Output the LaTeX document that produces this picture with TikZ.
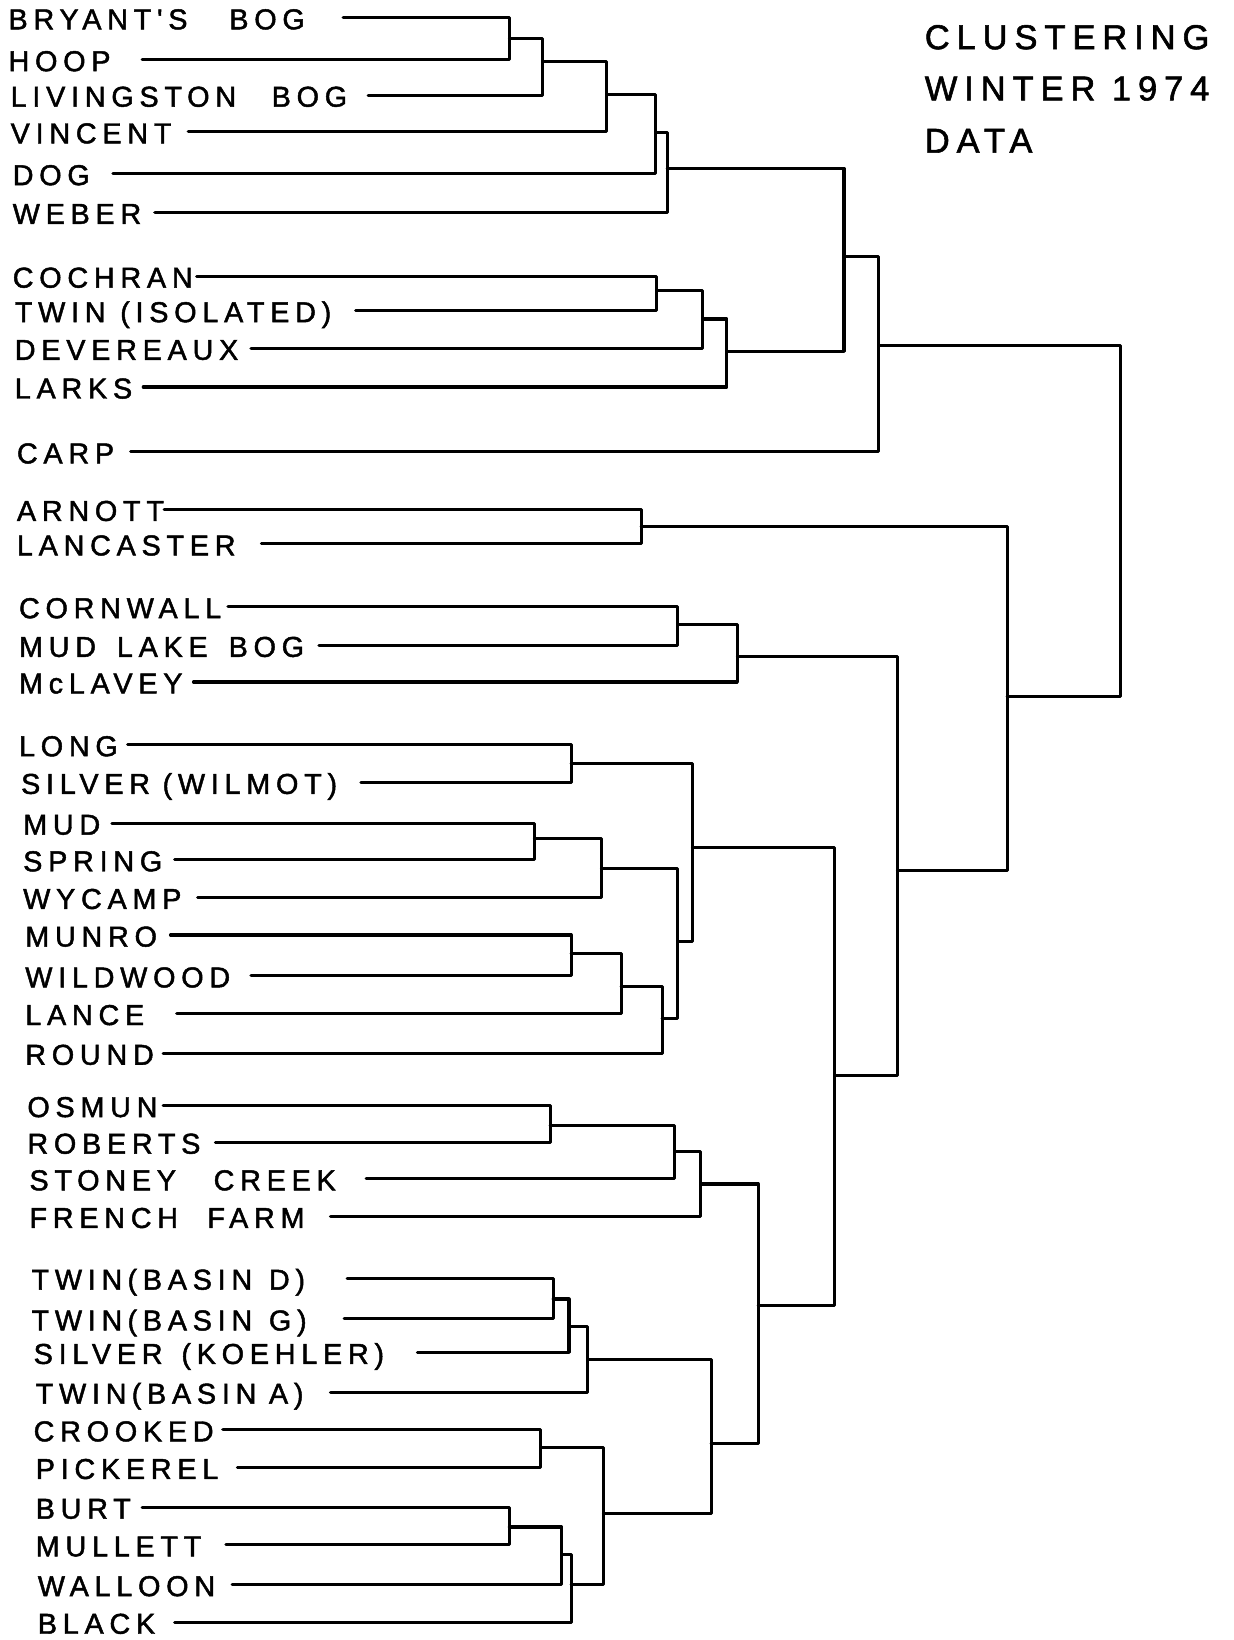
\documentclass[tikz,border=0pt]{standalone}
\usepackage{fontspec}
\newfontfamily\lblfam[LetterSpace=20,FakeBold=1.6]{Liberation Sans}
\newfontfamily\ttlfam[LetterSpace=20,FakeBold=1.6]{Liberation Sans}
\newcommand\wg[1]{\hspace*{#1pt}}
\begin{document}
\begin{tikzpicture}[x=1pt,y=-1pt,
  lbl/.style={anchor=base west, inner sep=0pt, font={\lblfam\fontsize{27.5pt}{29pt}\selectfont}},
  ttl/.style={anchor=base west, inner sep=0pt, font={\ttlfam\fontsize{33pt}{35pt}\selectfont}},
  br/.style={line width=3pt, line join=round, line cap=round}]
\useasboundingbox[fill=white] (0,0) rectangle (1179,1568);

% title
\node[ttl] (t1) at (884,47) {CLUSTERING};
\node[ttl] (t2) at (884,96) {WINTER 1974};
\node[ttl] (t3) at (884,146) {DATA};

% labels (baseline = line y + 11)
\node[lbl] (L1)  at (8,28)    {BRYANT'S\wg{40}BOG};
\node[lbl] (L2)  at (8,68)    {HOOP};
\node[lbl] (L3)  at (10,102)  {LIVINGSTON\wg{34}BOG};
\node[lbl] (L4)  at (10,137)  {VINCENT};
\node[lbl] (L5)  at (12,177)  {DOG};
\node[lbl] (L6)  at (12,214)  {WEBER};
\node[lbl] (L7)  at (12,275)  {COCHRAN};
\node[lbl] (L8)  at (14,308)  {TWIN\wg{14}(ISOLATED)};
\node[lbl] (L9)  at (14,344)  {DEVEREAUX};
\node[lbl] (L10) at (14,381)  {LARKS};
\node[lbl] (L11) at (16,443)  {CARP};
\node[lbl] (L12) at (16,498)  {ARNOTT};
\node[lbl] (L13) at (16,531)  {LANCASTER};
\node[lbl] (L14) at (18,591)  {CORNWALL};
\node[lbl] (L15) at (18,628)  {MUD\wg{20}LAKE\wg{20}BOG};
\node[lbl] (L16) at (18,663)  {McLAVEY};
\node[lbl] (L17) at (18,723)  {LONG};
\node[lbl] (L18) at (20,759)  {SILVER\wg{12}(WILMOT)};
\node[lbl] (L19) at (22,798)  {MUD};
\node[lbl] (L20) at (22,833)  {SPRING};
\node[lbl] (L21) at (22,869)  {WYCAMP};
\node[lbl] (L22) at (24,905)  {MUNRO};
\node[lbl] (L23) at (24,944)  {WILDWOOD};
\node[lbl] (L24) at (24,980)  {LANCE};
\node[lbl] (L25) at (24,1018) {ROUND};
\node[lbl] (L26) at (26,1068) {OSMUN};
\node[lbl] (L27) at (26,1103) {ROBERTS};
\node[lbl] (L28) at (28,1138) {STONEY\wg{36}CREEK};
\node[lbl] (L29) at (28,1174) {FRENCH\wg{28}FARM};
\node[lbl] (L30) at (30,1233) {TWIN\wg{5}(BASIN\wg{16}D)};
\node[lbl] (L31) at (30,1272) {TWIN\wg{5}(BASIN\wg{16}G)};
\node[lbl] (L32) at (32,1304) {SILVER\wg{18}(KOEHLER)};
\node[lbl] (L33) at (34,1342) {TWIN\wg{5}(BASIN\wg{12}A)};
\node[lbl] (L34) at (32,1378) {CROOKED};
\node[lbl] (L35) at (34,1414) {PICKEREL};
\node[lbl] (L36) at (34,1452) {BURT};
\node[lbl] (L37) at (34,1488) {MULLETT};
\node[lbl] (L38) at (36,1526) {WALLOON};
\node[lbl] (L39) at (36,1562) {BLACK};

% leaf line starts
\coordinate (s1) at (328,17);   \coordinate (s2) at (136,57);
\coordinate (s3) at (352,91);   \coordinate (s4) at (180,126);
\coordinate (s5) at (108,166);  \coordinate (s6) at (148,203);
\coordinate (s7) at (188,264);  \coordinate (s8) at (340,297);
\coordinate (s9) at (240,333);  \coordinate (s10) at (137,370);
\coordinate (s11) at (125,432); \coordinate (s12) at (157,487);
\coordinate (s13) at (250,520); \coordinate (s14) at (218,580);
\coordinate (s15) at (305,617); \coordinate (s16) at (185,652);
\coordinate (s17) at (122,712); \coordinate (s18) at (345,748);
\coordinate (s19) at (107,787); \coordinate (s20) at (167,822);
\coordinate (s21) at (189,858); \coordinate (s22) at (163,894);
\coordinate (s23) at (240,933); \coordinate (s24) at (169,969);
\coordinate (s25) at (156,1007);\coordinate (s26) at (156,1057);
\coordinate (s27) at (206,1092);\coordinate (s28) at (350,1127);
\coordinate (s29) at (316,1163);\coordinate (s30) at (332,1222);
\coordinate (s31) at (329,1261);\coordinate (s32) at (399,1293);
\coordinate (s33) at (316,1331);\coordinate (s34) at (213,1367);
\coordinate (s35) at (227,1403);\coordinate (s36) at (136,1441);
\coordinate (s37) at (216,1477);\coordinate (s38) at (222,1515);
\coordinate (s39) at (167,1551);

% merge points (vertical x, outgoing y)
\coordinate (a1) at (487,37);   \coordinate (a2) at (519,59);
\coordinate (a3) at (580,90);   \coordinate (a4) at (627,127);
\coordinate (a5) at (638,161);
\coordinate (b1) at (628,278);  \coordinate (b2) at (672,305);
\coordinate (b3) at (695,336);
\coordinate (c1) at (807,245);  \coordinate (c2) at (840,330);
\coordinate (d1) at (613,503);
\coordinate (e1) at (648,597);  \coordinate (e2) at (705,628);
\coordinate (f1) at (546,730);
\coordinate (g1) at (511,802);  \coordinate (g2) at (575,830);
\coordinate (h1) at (546,912);  \coordinate (h2) at (594,943);
\coordinate (h3) at (633,974);  \coordinate (g3) at (648,900);
\coordinate (f2) at (662,810);
\coordinate (i1) at (526,1076); \coordinate (i2) at (645,1101);
\coordinate (i3) at (670,1132);
\coordinate (j1) at (529,1242); \coordinate (j2) at (544,1268);
\coordinate (j3) at (562,1300);
\coordinate (k1) at (517,1384); \coordinate (k2) at (487,1460);
\coordinate (k3) at (537,1486); \coordinate (k4) at (546,1515);
\coordinate (k5) at (577,1447); \coordinate (j4) at (680,1380);
\coordinate (i4) at (725,1248); \coordinate (f3) at (798,1028);
\coordinate (e3) at (858,832);  \coordinate (d2) at (963,666);
\coordinate (root) at (1071,498);

% brackets
\draw[br] (s1) -| (a1) |- (s2);
\draw[br] (a1) -| (a2) |- (s3);
\draw[br] (a2) -| (a3) |- (s4);
\draw[br] (a3) -| (a4) |- (s5);
\draw[br] (a4) -| (a5) |- (s6);
\draw[br] (s7) -| (b1) |- (s8);
\draw[br] (b1) -| (b2) |- (s9);
\draw[br] (b2) -| (b3) |- (s10);
\draw[br] (a5) -| (c1) |- (b3);
\draw[br] (c1) -| (c2) |- (s11);
\draw[br] (s12) -| (d1) |- (s13);
\draw[br] (s14) -| (e1) |- (s15);
\draw[br] (e1) -| (e2) |- (s16);
\draw[br] (s17) -| (f1) |- (s18);
\draw[br] (s19) -| (g1) |- (s20);
\draw[br] (g1) -| (g2) |- (s21);
\draw[br] (s22) -| (h1) |- (s23);
\draw[br] (h1) -| (h2) |- (s24);
\draw[br] (h2) -| (h3) |- (s25);
\draw[br] (g2) -| (g3) |- (h3);
\draw[br] (f1) -| (f2) |- (g3);
\draw[br] (s26) -| (i1) |- (s27);
\draw[br] (i1) -| (i2) |- (s28);
\draw[br] (i2) -| (i3) |- (s29);
\draw[br] (s30) -| (j1) |- (s31);
\draw[br] (j1) -| (j2) |- (s32);
\draw[br] (j2) -| (j3) |- (s33);
\draw[br] (s34) -| (k1) |- (s35);
\draw[br] (s36) -| (k2) |- (s37);
\draw[br] (k2) -| (k3) |- (s38);
\draw[br] (k3) -| (k4) |- (s39);
\draw[br] (k1) -| (k5) |- (k4);
\draw[br] (j3) -| (j4) |- (k5);
\draw[br] (i3) -| (i4) |- (j4);
\draw[br] (f2) -| (f3) |- (i4);
\draw[br] (e2) -| (e3) |- (f3);
\draw[br] (d1) -| (d2) |- (e3);
\draw[br] (c2) -| (root) |- (d2);
\end{tikzpicture}
\end{document}
